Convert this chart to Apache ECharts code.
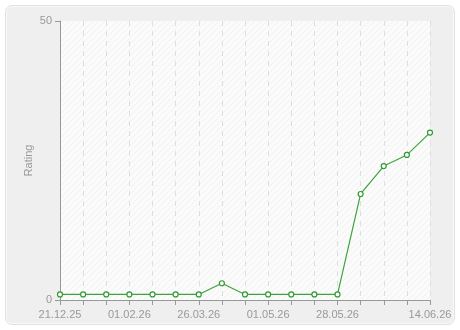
<!DOCTYPE html>
<html>
<head>
<meta charset="utf-8">
<script src="https://cdn.jsdelivr.net/npm/echarts@6/dist/echarts.min.js"></script>
<style>
  html, body { margin: 0; padding: 0; background: #fff; }
  #frame {
    position: absolute; left: 5px; top: 5px; width: 448px; height: 318px;
    background: #efefef; border: 1px solid #e2e2e2; border-radius: 7px;
    box-shadow: inset 0 0 0 1px #f8f8f8;
  }
  #chart { position: absolute; left: 0; top: 0; width: 460px; height: 330px; }
</style>
</head>
<body>
<div id="frame"></div>
<div id="chart"></div>
<script>
// dates on the x axis, only some of them are labelled
const dates = ['21.12.25', '', '', '01.02.26', '', '', '26.03.26', '', '', '01.05.26', '', '', '28.05.26', '', '', '', '14.06.26'];
const rating = [1, 1, 1, 1, 1, 1, 1, 3, 1, 1, 1, 1, 1, 19, 24, 26, 30];
const yTicks = [0, 50];

// diagonal hatch for the plot background
const hatch = document.createElement('canvas');
hatch.width = 6; hatch.height = 6;
const hc = hatch.getContext('2d');
hc.fillStyle = '#fbfbfb';
hc.fillRect(0, 0, 6, 6);
hc.strokeStyle = '#f1f1f1';
hc.lineWidth = 1;
hc.beginPath();
hc.moveTo(0, 6); hc.lineTo(6, 0);
hc.moveTo(-3, 3); hc.lineTo(3, -3);
hc.moveTo(3, 9); hc.lineTo(9, 3);
hc.stroke();

const chart = echarts.init(document.getElementById('chart'), null, { renderer: 'canvas' });
chart.setOption({
  animation: false,
  textStyle: { fontFamily: 'Liberation Sans, Arial, sans-serif' },
  grid: {
    left: 60, right: 30, top: 21, bottom: 30,
    show: true, borderWidth: 0,
    backgroundColor: { image: hatch, repeat: 'repeat' }
  },
  xAxis: {
    type: 'category',
    data: dates,
    boundaryGap: false,
    axisLine: { lineStyle: { color: '#999', width: 1 } },
    axisTick: { show: true, interval: 0, length: 5, lineStyle: { color: '#999' } },
    axisLabel: { interval: 0, color: '#999', fontSize: 11, margin: 9 },
    splitLine: {
      show: true, interval: 0,
      lineStyle: { color: '#dedede', type: [5, 5] }
    }
  },
  yAxis: {
    type: 'value',
    min: yTicks[0], max: yTicks[1], interval: 50,
    name: 'Rating',
    nameLocation: 'middle',
    nameGap: 26,
    nameMoveOverlap: false,
    nameTextStyle: { color: '#999', fontSize: 11 },
    axisLine: { show: true, lineStyle: { color: '#999', width: 1 } },
    axisTick: { show: true, length: 5, lineStyle: { color: '#999' } },
    axisLabel: { color: '#999', fontSize: 11, margin: 8 },
    splitLine: { show: false }
  },
  series: [{
    type: 'line',
    data: rating,
    symbol: 'circle',
    symbolSize: 5,
    showAllSymbol: true,
    itemStyle: { color: '#fff', borderColor: '#2f9a2f', borderWidth: 1.2 },
    lineStyle: { color: '#3da43d', width: 1.2 }
  }]
});
</script>
</body>
</html>
